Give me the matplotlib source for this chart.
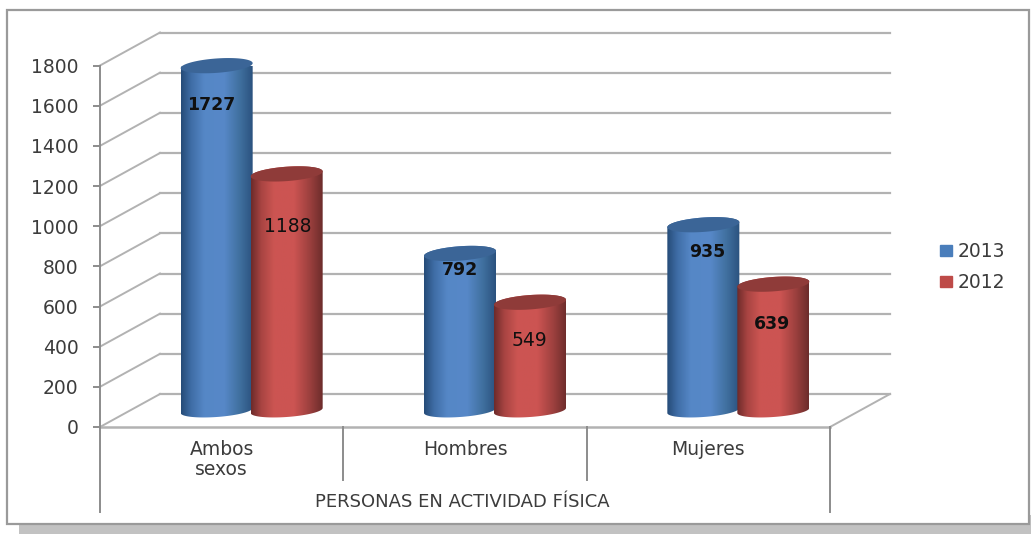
"""Cylinder chart: personas en actividad fisica, 2013 vs 2012."""
import matplotlib
matplotlib.use("Agg")
import matplotlib.pyplot as plt
import matplotlib.patches as mpatches
from matplotlib.colors import LinearSegmentedColormap
import numpy as np

# ── Data ──────────────────────────────────────────────────────────────────────
CATEGORIES = ["Ambos\nsexos", "Hombres", "Mujeres"]
SERIES = ["2013", "2012"]
VALUES_2013 = [1727, 792, 935]
VALUES_2012 = [1188, 549, 639]
Y_TICKS = [0, 200, 400, 600, 800, 1000, 1200, 1400, 1600, 1800]
AXIS_TITLE = "PERSONAS EN ACTIVIDAD FÍSICA"

# ── Layout (pixels of the 1031x534 picture) ───────────────────────────────────
W, H = 1031, 534
LEFT, RIGHT, BASE, TOP = 100, 830, 427, 65.5
DEPTH_X, DEPTH_Y = 60, 33
PX_X = len(CATEGORIES) / (RIGHT - LEFT)
PX_Y = Y_TICKS[-1] / (BASE - TOP)

GRID = "#b2b2b2"
AXIS = "#8c8c8c"
TEXT = "#3c3c3c"
BLUE = [(0, "#264c78"), (0.14, "#3f6da6"), (0.32, "#5587c6"), (0.6, "#5788c8"),
        (0.82, "#40709f"), (1, "#2b527f")]
RED = [(0, "#6e2b2a"), (0.14, "#a84442"), (0.32, "#cc5552"), (0.6, "#cc5452"),
       (0.82, "#9c403e"), (1, "#6c2c2b")]
LEGEND_BLUE = "#4a7ebb"
LEGEND_RED = "#be4b48"
CAP_BLUE = "#3b6597"
CAP_RED = "#8f3b39"

# data label offsets from the top of each cylinder, pixels (x, y), per series
LABEL_OFFSET = [[(-5, -41), (0, -19), (4, -29)], [(1, -55), (-1, -40), (-1, -42)]]
LABEL_WEIGHT = [["bold", "bold", "bold"], ["normal", "normal", "bold"]]

plt.rcParams.update({"font.family": "DejaVu Sans", "font.size": 13})

fig = plt.figure(figsize=(W / 100, H / 100), dpi=100, facecolor="white")


def _frame_rect(x0, y0, x1, y1, **kw):
    fig.add_artist(mpatches.Rectangle((x0 / W, 1 - y1 / H), (x1 - x0) / W, (y1 - y0) / H,
                                      transform=fig.transFigure, **kw))


# Shadow + frame
_frame_rect(19, 515, W, H, fc="#c2c2c2", ec="none", zorder=-2)
_frame_rect(7, 10, 1029, 524, fc="white", ec="#9a9a9a", lw=1.6, zorder=-1)

ax = fig.add_axes([LEFT / W, 1 - BASE / H, (RIGHT - LEFT) / W, (BASE - TOP) / H])
ax.patch.set_visible(False)
ax.set_xlim(0, len(CATEGORIES))
ax.set_ylim(0, Y_TICKS[-1])
ax.set_autoscale_on(False)

dx, dy = DEPTH_X * PX_X, DEPTH_Y * PX_Y

# ── Walls and floor ───────────────────────────────────────────────────────────
for v in Y_TICKS:
    ax.plot([dx, len(CATEGORIES) + dx], [v + dy, v + dy], color=GRID, lw=1.6,
            clip_on=False, zorder=1)
    ax.plot([0, dx], [v, v + dy], color=GRID, lw=1.4, clip_on=False, zorder=1)
ax.plot([len(CATEGORIES), len(CATEGORIES) + dx], [0, dy], color=GRID, lw=1.4,
        clip_on=False, zorder=1)
ax.plot([0, len(CATEGORIES)], [0, 0], color=GRID, lw=1.8, clip_on=False, zorder=1)

# ── Axis ──────────────────────────────────────────────────────────────────────
for side in ("top", "right", "bottom"):
    ax.spines[side].set_visible(False)
ax.spines["left"].set_color(AXIS)
ax.spines["left"].set_linewidth(1.4)
ax.set_xticks([])
ax.set_yticks(Y_TICKS)
ax.tick_params(axis="y", color=AXIS, width=1.4, length=5, pad=10.5, labelcolor=TEXT,
               labelsize=13.5)

# multi-level category separators below the floor
low = -85 * PX_Y
mid = -53 * PX_Y
for i in range(len(CATEGORIES) + 1):
    end = low if i in (0, len(CATEGORIES)) else mid
    ax.plot([i, i], [0, end], color=AXIS, lw=1.4, clip_on=False, zorder=1)

for i, cat in enumerate(CATEGORIES):
    ax.text(i + 0.5, -13 * PX_Y, cat, ha="center", va="top", color=TEXT,
            fontsize=13.5, linespacing=1.05)
ax.text(len(CATEGORIES) / 2 - 3 * PX_X, -75 * PX_Y, AXIS_TITLE, ha="center", va="center",
        color=TEXT, fontsize=13)


# ── Cylinders ─────────────────────────────────────────────────────────────────
A, B, TILT = 36, 6.5, 2.5   # half width, half height, rise of the rim (pixels)
CAP_B, CAP_DROP = 7.2, 2    # top rim is a bit fatter and sits slightly lower


def _rim(cx, v, t, b=B, drop=0):
    """Points of the tilted elliptical rim at value v, in data coordinates."""
    x = cx + A * np.cos(t) * PX_X
    y = v + dy / 2 + (b * np.sin(t) + TILT * np.cos(t) - drop) * PX_Y
    return np.column_stack([x, y])


def draw_cylinder(cx, v, colors, cap, z):
    cmap = LinearSegmentedColormap.from_list("cyl", colors)
    lower = _rim(cx, 0, np.linspace(np.pi, 2 * np.pi, 60))
    upper = _rim(cx, v, np.linspace(0, np.pi, 60), CAP_B, CAP_DROP)
    body = mpatches.Polygon(np.vstack([lower, upper]), closed=True, fc="none",
                            ec="none", zorder=z, clip_on=False)
    ax.add_patch(body)
    extent = [cx - A * PX_X, cx + A * PX_X, -20 * PX_Y, v + dy]
    im = ax.imshow(np.linspace(0, 1, 128)[None, :], cmap=cmap, aspect="auto",
                   extent=extent, zorder=z, interpolation="bilinear")
    im.set_clip_path(body)
    top = mpatches.Polygon(_rim(cx, v, np.linspace(0, 2 * np.pi, 120), CAP_B, CAP_DROP),
                           closed=True, fc=cap, ec="none", zorder=z + 0.1, clip_on=False)
    ax.add_patch(top)


shift = DEPTH_X / 2 * PX_X
gap = 35 * PX_X
for s, (vals, colors, cap) in enumerate([(VALUES_2013, BLUE, CAP_BLUE),
                                         (VALUES_2012, RED, CAP_RED)]):
    for i, v in enumerate(vals):
        cx = i + 0.5 + shift + (2 * s - 1) * gap
        draw_cylinder(cx, v, colors, cap, 3 + i + s * 0.5)
        ax.annotate(str(v), (cx, v + dy / 2), xytext=LABEL_OFFSET[s][i],
                    textcoords="offset pixels", ha="center", va="center",
                    color="#101010", fontsize=12.5 if LABEL_WEIGHT[s][i] == "bold" else 13.5,
                    fontweight=LABEL_WEIGHT[s][i], zorder=10, annotation_clip=False)

# ── Legend ────────────────────────────────────────────────────────────────────
handles = [mpatches.Patch(color=LEGEND_BLUE, label=SERIES[0]),
           mpatches.Patch(color=LEGEND_RED, label=SERIES[1])]
fig.legend(handles=handles, loc="center left", frameon=False,
           bbox_to_anchor=(923 / W, 1 - 267 / H), handlelength=0.64, handleheight=0.5,
           handletextpad=0.32, labelspacing=0.65, labelcolor=TEXT, fontsize=13.5)

fig.savefig("out.png", dpi=100)
